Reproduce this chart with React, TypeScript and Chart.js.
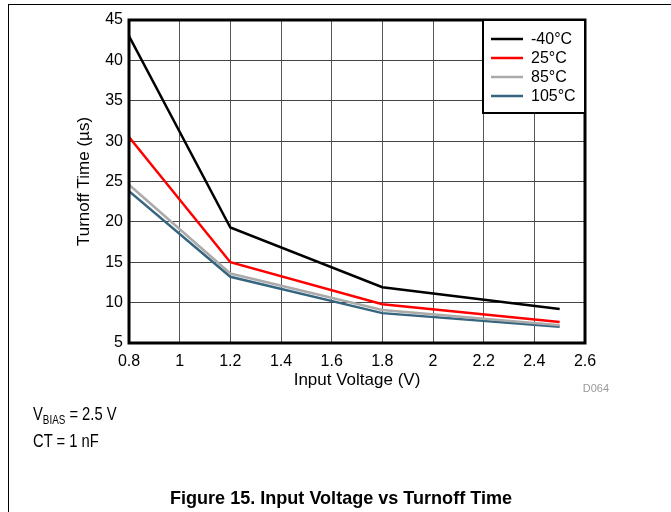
import React, { useEffect, useRef } from "react";
import { Chart, registerables } from "chart.js";

Chart.register(...registerables);

const voltages = [0.8, 1.2, 1.8, 2.5];
const seriesLabels = ["-40°C", "25°C", "85°C", "105°C"];
const seriesColors = ["#000000", "#ff0000", "#aaaaaa", "#36657f"];
const tMinus40 = [43.0, 19.3, 11.9, 9.2];
const t25 = [30.5, 15.0, 9.8, 7.6];
const t85 = [24.6, 13.6, 9.1, 7.2];
const t105 = [23.8, 13.2, 8.7, 7.0];
const seriesValues = [tMinus40, t25, t85, t105];

const xTickMin = 0.8;
const xTickMax = 2.6;
const xTickStep = 0.2;
const yTickMin = 5;
const yTickMax = 45;
const yTickStep = 5;

const FONT = "'Liberation Sans', Arial, Helvetica, sans-serif";

const framePlugin = {
  id: "frameAndLegend",
  afterDatasetsDraw(chart: any) {
    const { ctx, chartArea: a } = chart;
    ctx.save();
    ctx.strokeStyle = "#000";
    ctx.lineWidth = 3;
    ctx.strokeRect(a.left, a.top, a.right - a.left, a.bottom - a.top);
    const w = 102;
    const h = 93;
    const x0 = a.right - w;
    const y0 = a.top;
    ctx.fillStyle = "#fff";
    ctx.fillRect(x0, y0, w, h);
    ctx.lineWidth = 2;
    ctx.strokeRect(x0, y0, w, h);
    ctx.font = `16px ${FONT}`;
    ctx.textBaseline = "middle";
    ctx.textAlign = "left";
    chart.data.datasets.forEach((ds: any, i: number) => {
      const y = y0 + 19 + i * 19;
      ctx.strokeStyle = ds.borderColor;
      ctx.lineWidth = 2.5;
      ctx.beginPath();
      ctx.moveTo(x0 + 8, y);
      ctx.lineTo(x0 + 40, y);
      ctx.stroke();
      ctx.fillStyle = "#000";
      ctx.fillText(ds.label, x0 + 48, y + 1);
    });
    ctx.restore();
  },
};

export default function App() {
  const ref = useRef<HTMLCanvasElement | null>(null);

  useEffect(() => {
    if (!ref.current) return;
    const chart = new Chart(ref.current, {
      type: "line",
      data: {
        datasets: seriesValues.map((vals, i) => ({
          label: seriesLabels[i],
          data: vals.map((v, j) => ({ x: voltages[j], y: v })),
          borderColor: seriesColors[i],
          backgroundColor: seriesColors[i],
          borderWidth: 2.5,
          pointRadius: 0,
          tension: 0,
          fill: false,
        })),
      },
      options: {
        animation: false,
        responsive: false,
        maintainAspectRatio: false,
        layout: { padding: { left: 74, top: 20, right: 86, bottom: 118 } },
        plugins: {
          legend: { display: false },
          tooltip: { enabled: false },
        },
        scales: {
          x: {
            type: "linear",
            min: xTickMin,
            max: xTickMax,
            ticks: {
              stepSize: xTickStep,
              color: "#000",
              padding: 9,
              font: { family: FONT, size: 16 },
              maxRotation: 0,
              callback: (v: any) => String(Math.round(Number(v) * 10) / 10),
            },
            grid: { color: "#555", lineWidth: 1, drawTicks: false },
            border: { display: false },
            title: {
              display: true,
              text: "Input Voltage (V)",
              color: "#000",
              font: { family: FONT, size: 17 },
              padding: { top: 0, bottom: 3 },
            },
            afterFit(scale: any) {
              scale.height = 51;
            },
          },
          y: {
            type: "linear",
            min: yTickMin,
            max: yTickMax,
            ticks: {
              stepSize: yTickStep,
              color: "#000",
              padding: 6,
              font: { family: FONT, size: 16 },
            },
            grid: { color: "#444", lineWidth: 1, drawTicks: false },
            border: { display: false },
            title: {
              display: true,
              text: "Turnoff Time (µs)",
              color: "#000",
              font: { family: FONT, size: 17 },
              padding: 0,
            },
            afterFit(scale: any) {
              scale.width = 55;
            },
          },
        },
      },
      plugins: [framePlugin],
    });
    return () => chart.destroy();
  }, []);

  const textStyle: React.CSSProperties = {
    position: "absolute",
    fontFamily: FONT,
    color: "#000",
    lineHeight: "1",
    whiteSpace: "nowrap",
  };

  return (
    <div style={{ position: "absolute", left: 0, top: 0, width: 671, height: 512, background: "#fff", overflow: "hidden" }}>
      <div
        style={{
          position: "absolute",
          left: 8,
          top: 4,
          width: 663,
          height: 508,
          borderTop: "1px solid #000",
          borderLeft: "1px solid #000",
          boxSizing: "border-box",
        }}
      />
      <canvas ref={ref} width={671} height={512} style={{ position: "absolute", left: 0, top: 0, width: 671, height: 512 }} />
      <div style={{ ...textStyle, right: 671 - 609, top: 383, fontSize: 11, color: "#9a9a9a" }}>D064</div>
      <div style={{ ...textStyle, left: 33, top: 405, fontSize: 18, transform: "scaleX(0.82)", transformOrigin: "left center" }}>
        V<span style={{ fontSize: 12, verticalAlign: "-4px" }}>BIAS</span> = 2.5 V
      </div>
      <div style={{ ...textStyle, left: 33, top: 432, fontSize: 18, transform: "scaleX(0.82)", transformOrigin: "left center" }}>CT = 1 nF</div>
      <div
        style={{
          ...textStyle,
          left: 91,
          width: 500,
          textAlign: "center",
          top: 488,
          fontSize: 19,
          fontWeight: "bold",
          transform: "scaleX(0.95)",
          transformOrigin: "center center",
        }}
      >
        Figure 15. Input Voltage vs Turnoff Time
      </div>
    </div>
  );
}
